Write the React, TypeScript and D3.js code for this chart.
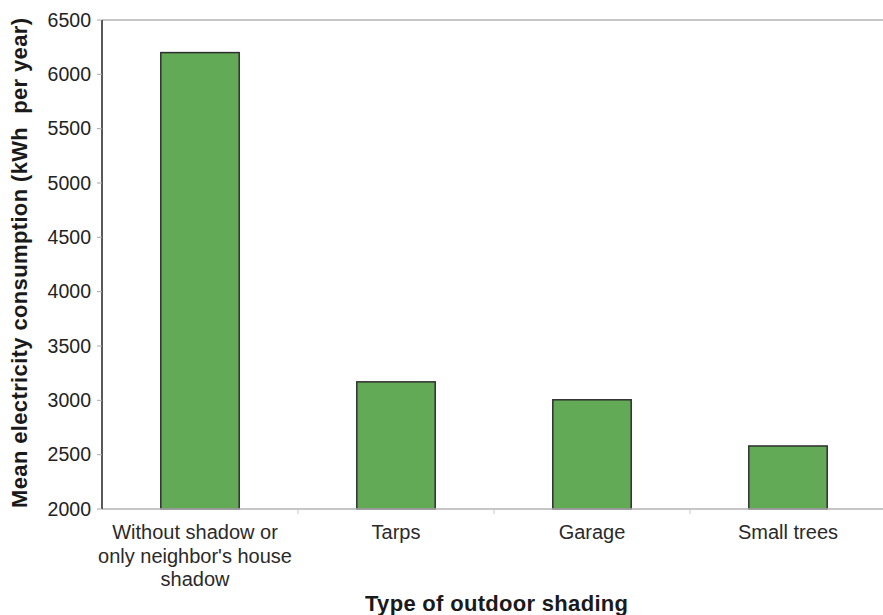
import React from "react";
import * as d3 from "d3";

// Shading categories (line breaks mark label wrapping) and mean consumption values
const categories = [
  "Without shadow or\nonly neighbor's house\nshadow",
  "Tarps",
  "Garage",
  "Small trees",
];
const consumption = [6200, 3170, 3005, 2580];
const yTicks = [2000, 2500, 3000, 3500, 4000, 4500, 5000, 5500, 6000, 6500];

const W = 883;
const H = 615;
const left = 102;
const right = 886;
const top = 20;
const bottom = 509;

const FONT = "'Liberation Sans', Arial, sans-serif";

export default function App() {
  const x = d3
    .scaleBand<string>()
    .domain(categories)
    .range([left, right])
    .paddingInner(0.6)
    .paddingOuter(0.3);
  const y = d3.scaleLinear().domain([2000, 6500]).range([bottom, top]);
  const step = x.step();
  const boundaries = d3.range(1, categories.length).map((i) => left + i * step);

  return (
    <svg
      width={W}
      height={H}
      style={{ position: "absolute", left: 0, top: 0, background: "#fff" }}
      fontFamily={FONT}
    >
      {/* top frame line */}
      <line x1={left} x2={W} y1={y(6500)} y2={y(6500)} stroke="#b3b3b3" strokeWidth={1.5} />

      {/* bars */}
      {categories.map((c, i) => (
        <rect
          key={c}
          x={x(c)}
          y={y(consumption[i])}
          width={x.bandwidth()}
          height={y(2000) - y(consumption[i])}
          fill="#62aa55"
          stroke="#2e2e2e"
          strokeWidth={1.5}
        />
      ))}

      {/* x axis */}
      <line x1={left} x2={W} y1={bottom} y2={bottom} stroke="#b3b3b3" strokeWidth={1.5} />
      {boundaries.map((bx) => (
        <line key={bx} x1={bx} x2={bx} y1={bottom} y2={bottom + 5} stroke="#c8c8c8" strokeWidth={1} />
      ))}

      {/* y axis */}
      <line x1={left} x2={left} y1={top} y2={bottom} stroke="#222" strokeWidth={1.5} />
      {yTicks.map((t) => (
        <g key={t}>
          <line x1={left - 5} x2={left} y1={y(t)} y2={y(t)} stroke="#aaa" strokeWidth={1} />
          <text
            x={91}
            y={y(t)}
            dy="0.35em"
            textAnchor="end"
            fontSize={19.5}
            fill="#222"
          >
            {t}
          </text>
        </g>
      ))}

      {/* category labels */}
      {categories.map((c, i) => {
        const cx = (x(c) as number) + x.bandwidth() / 2 - (i === 0 ? 5 : 0);
        return (
          <text key={c} textAnchor="middle" fontSize={20} fill="#2a2a2a">
            {c.split("\n").map((line, j) => (
              <tspan key={j} x={cx} y={539 + j * 23.5}>
                {line}
              </tspan>
            ))}
          </text>
        );
      })}

      {/* axis titles */}
      <text
        x={496.5}
        y={611}
        textAnchor="middle"
        fontSize={22}
        fontWeight="bold"
        fill="#1a1a1a"
        textLength={263}
        lengthAdjust="spacing"
      >
        Type of outdoor shading
      </text>
      <text
        transform={`translate(27, 263) rotate(-90)`}
        textAnchor="middle"
        fontSize={22}
        fontWeight="bold"
        fill="#1a1a1a"
        textLength={490}
        lengthAdjust="spacing"
        style={{ whiteSpace: "pre" }}
      >
        Mean electricity consumption (kWh  per year)
      </text>
    </svg>
  );
}
